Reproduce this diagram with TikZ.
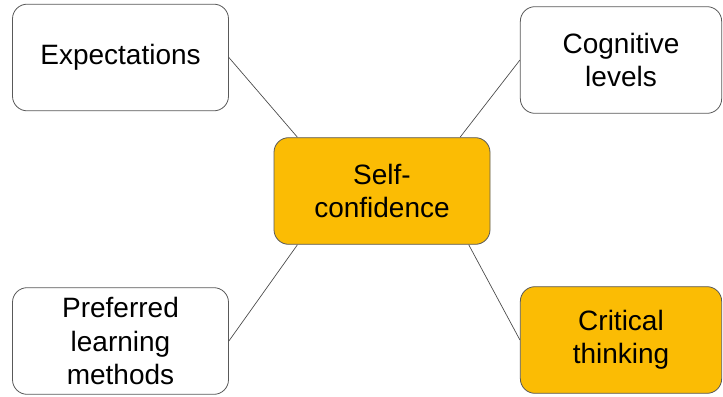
\documentclass[tikz,border=0pt]{standalone}
\usepackage{fontspec}
\setmainfont{Liberation Sans}
\usetikzlibrary{calc}
\definecolor{topicfill}{HTML}{FBBC04}
\definecolor{topicline}{HTML}{595959}
\begin{document}
\begin{tikzpicture}[x=0.75pt,y=-0.75pt,
  topic/.style={draw=topicline,line width=0.6pt,rounded corners=11pt,
    minimum width=162pt,minimum height=80pt,align=center,
    font=\fontsize{21}{25}\selectfont},
  link/.style={draw=topicline!80!black,line width=0.5pt}]
\useasboundingbox (0,0) rectangle (723,396);
% Boxes
\node[topic,fill=topicfill] (self) at (382,191) {Self-\\confidence};
\node[topic,fill=white] (expect) at (120.5,57.5) {Expectations};
\node[topic,fill=white,minimum width=151pt] (cog) at (621,60) {Cognitive\\levels};
\node[topic,fill=white] (pref) at (120.5,341) {Preferred\\learning\\methods};
\node[topic,fill=topicfill,minimum width=151pt] (crit) at (621,340) {Critical\\thinking};
% Links
\path[link] (expect.east) -- ($(self.north west)!0.11!(self.north east)$);
\path[link] (cog.west) -- ($(self.north west)!0.86!(self.north east)$);
\path[link] (pref.east) -- ($(self.south west)!0.11!(self.south east)$);
\path[link] (crit.west) -- ($(self.south west)!0.9!(self.south east)$);
\end{tikzpicture}
\end{document}
